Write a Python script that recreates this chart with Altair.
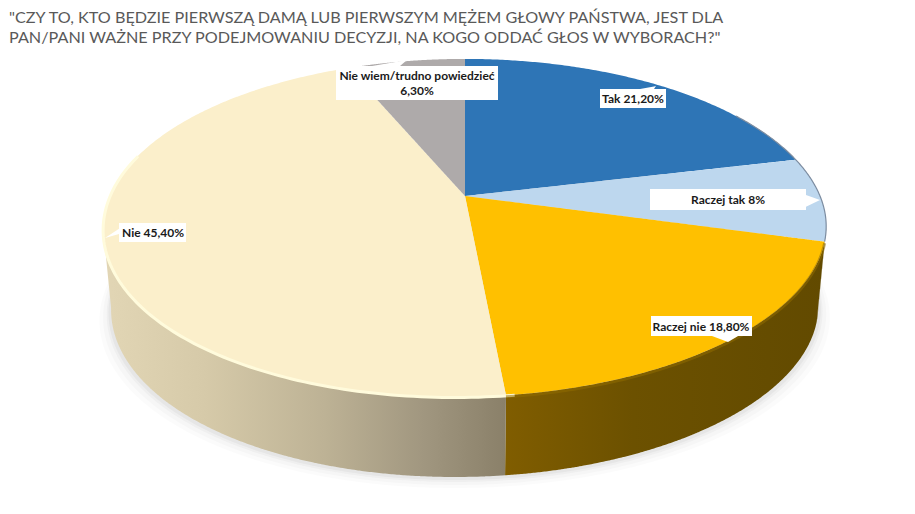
import numpy as np
import pandas as pd
import altair as alt

categories = ["Tak", "Raczej tak", "Raczej nie", "Nie", "Nie wiem/trudno powiedzieć"]
values = [21.2, 8.0, 18.8, 45.4, 6.3]
top_colors = ["#2E75B6", "#BDD7EE", "#FFC000", "#FBEFCB", "#AEAAAA"]
title_lines = ['"CZY TO, KTO BĘDZIE PIERWSZĄ DAMĄ LUB PIERWSZYM MĘŻEM GŁOWY PAŃSTWA, JEST DLA',
               'PAN/PANI WAŻNE PRZY PODEJMOWANIU DECYZJI, NA KOGO ODDAĆ GŁOS W WYBORACH?"']
label_lines = [["Tak 21,20%"], ["Raczej tak 8%"], ["Raczej nie 18,80%"], ["Nie 45,40%"],
               ["Nie wiem/trudno powiedzieć", "6,30%"]]

# layout of the perspective pie (pixels of the picture)
CX, CY, A, B, K = 465.0, 196.0, 355.0, 163.0, -0.189
DEPTH, SHRINK = 80.0, 0.978
W, H = 895, 490
# label box: x0, x1, y0, y1, tip x, tip y, tip base x0, tip base x1, tip base y
boxes = [(600, 666, 89, 108, 656, 86, 640, 654, 89),
         (650, 806, 189, 210, 820, 200, 806, 806, 195),
         (651, 752, 316, 336, 728, 342, 712, 738, 336),
         (119, 186, 223, 242, 105, 238, 119, 119, 234),
         (336, 498, 66, 100, 407, 60, 372, 400, 66)]


def project(t):
    t = np.asarray(t, dtype=float)
    u, v = np.sin(t), -np.cos(t)
    d = 1 + K * v
    x = CX + A * u / d - 10 * np.clip(v, 0, 1) ** 2
    y = CY + B * v / d
    return x, y


def section(px, py):
    """Vertical spans of a closed outline, for an area mark."""
    px, py = np.asarray(px), np.asarray(py)
    qx, qy = np.roll(px, -1), np.roll(py, -1)
    rows = []
    for x in np.unique(np.round(px, 2)):
        hits = []
        for a, b, c, d in zip(px, py, qx, qy):
            lo, hi = min(a, c), max(a, c)
            if lo - 0.006 <= x <= hi + 0.006:
                if abs(c - a) < 1e-6:
                    hits += [b, d]
                else:
                    hits.append(b + (d - b) * np.clip((x - a) / (c - a), 0, 1))
        if hits:
            rows.append({"x": x, "y": min(hits), "y2": max(hits)})
    return pd.DataFrame(rows)


xs = alt.Scale(domain=[8, 8 + W], nice=False, zero=False)
ys = alt.Scale(domain=[8 + H, 8], nice=False, zero=False)


def X(f="x"):
    return alt.X(f"{f}:Q", scale=xs, axis=None)


def Y(f="y"):
    return alt.Y(f"{f}:Q", scale=ys, axis=None)


def area(df, **mark):
    return alt.Chart(df).mark_area(**mark).encode(x=X(), y=Y(), y2=alt.Y2("y2:Q"))


def hgrad(stops):
    return alt.Gradient(gradient="linear", x1=0, x2=1, y1=0, y2=0,
                        stops=[alt.GradientStop(color=c, offset=o) for o, c in stops])


def rim(t0, t1, color, width, dy=0.0, opacity=1.0):
    t = np.linspace(t0, t1, 120)
    x, y = project(t)
    df = pd.DataFrame({"x": x, "y": y + dy, "i": np.arange(len(t))})
    return alt.Chart(df).mark_line(color=color, strokeWidth=width, opacity=opacity).encode(
        x=X(), y=Y(), order="i:Q")


def wall(t0, t1):
    t = np.linspace(t0, t1, 160)
    x, y = project(t)
    bx = CX + (x - CX) * SHRINK
    by = y + DEPTH
    return section(np.r_[x, bx[::-1]], np.r_[y, by[::-1]])


total = sum(values)
edges = 2 * np.pi * np.r_[0, np.cumsum(values)] / total
layers = []

# soft shadow under the pie
full = np.linspace(0, 2 * np.pi, 300)
fx, fy = project(full)
for dy, dx, op in [(11, 1.01, 0.03), (8, 1.0, 0.04), (5, 0.99, 0.06), (3, 0.985, 0.08)]:
    layers.append(area(section(CX + (fx - CX) * dx, fy + DEPTH + dy), color="#808080", opacity=op))

# side walls
RIGHT_T, LEFT_T = np.radians(100.9), np.radians(259.1)
layers.append(area(wall(RIGHT_T, edges[2]), color="#5F4800"))
layers.append(area(wall(edges[2], edges[3]),
                   color=hgrad([(0, "#805D00"), (0.4, "#6C5100"), (1, "#624A00")])))
layers.append(area(wall(edges[3], LEFT_T),
                   color=hgrad([(0, "#E2D6B5"), (0.25, "#D6CAA9"), (0.55, "#BDB295"),
                                (0.8, "#A0967F"), (1, "#8A8069")])))

# top slices
for i, c in enumerate(top_colors):
    t = np.linspace(edges[i], edges[i + 1], 160)
    x, y = project(t)
    layers.append(area(section(np.r_[CX, x], np.r_[CY, y]), color=c))

# bevel highlights and edges
layers.append(rim(edges[3] - 0.02, np.radians(285), "#FFFBDC", 3, dy=0.5))
layers.append(rim(edges[2], edges[3], "#8F6C00", 3, dy=1.5, opacity=0.55))
layers.append(rim(edges[0] + 1.0, edges[2], "#7C8CA0", 1.2))

# label boxes with their callout tips
for b in boxes:
    x0, x1, y0, y1, tx, ty, bx0, bx1, by = b
    rect = pd.DataFrame([{"x": x0, "x2": x1, "y": y0, "y2": y1}])
    layers.append(alt.Chart(rect).mark_rect(color="white").encode(
        x=X(), x2="x2:Q", y=Y(), y2="y2:Q"))
    if bx0 == bx1:
        other = y0 + (y1 - y0) * 0.85 if by < (y0 + y1) / 2 else y0 + (y1 - y0) * 0.3
        poly = ([tx, bx0, bx0], [ty, by, other])
    else:
        poly = ([tx, bx0, bx1], [ty, by, by])
    layers.append(area(section(*poly), color="white"))

# label texts
text_pos = [(633, [99]), (728, [200]), (701, [327]), (153, [233]), (417, [76, 91])]
for lines, (tx, tys) in zip(label_lines, text_pos):
    df = pd.DataFrame({"x": [tx] * len(lines), "y": tys, "t": lines})
    layers.append(alt.Chart(df).mark_text(font="Lato", fontSize=12, fontWeight="bold",
                                          color="#1A1A1A", align="center", baseline="middle").encode(
        x=X(), y=Y(), text="t:N"))

# title
title_df = pd.DataFrame({"x": [9, 9], "y": [17.5, 38], "t": title_lines})
layers.append(alt.Chart(title_df).mark_text(font="Lato", fontSize=16.2, color="#595959",
                                            align="left", baseline="middle").encode(
    x=X(), y=Y(), text="t:N"))

chart = alt.layer(*layers).properties(
    width=W, height=H, padding=0, autosize=alt.AutoSizeParams(type="none"),
    background="white"
).configure_view(stroke=None)

chart.save("out.html", embed_options={"renderer": "svg", "actions": False})
